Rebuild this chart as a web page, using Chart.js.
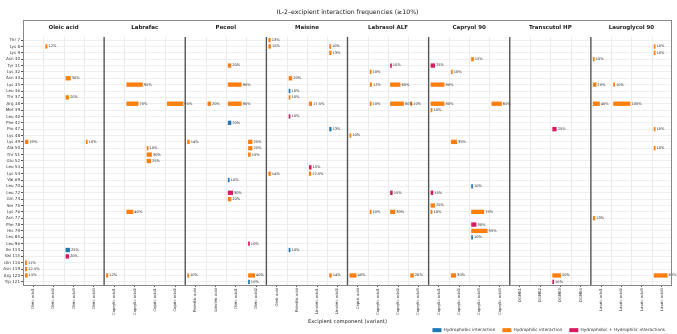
<!DOCTYPE html>
<html>
<head>
<meta charset="utf-8">
<script src="https://cdn.jsdelivr.net/npm/chart.js@4.4.0/dist/chart.umd.min.js"></script>
<style>
  html, body { margin: 0; padding: 0; background: #fff; }
</style>
</head>
<body>
<canvas id="chart" width="677" height="334"></canvas>
<script>
let residues = ['Thr 7', 'Lys 8', 'Lys 9', 'Asn 30', 'Tyr 31', 'Lys 32', 'Asn 33', 'Lys 35', 'Leu 36', 'Thr 37',
  'Arg 38', 'Met 39', 'Leu 40', 'Phe 42', 'Pro 47', 'Lys 48', 'Lys 49', 'Ala 50', 'Thr 51', 'Glu 52',
  'Leu 53', 'Lys 54', 'Val 69', 'Leu 70', 'Leu 72', 'Gln 74', 'Ser 75', 'Lys 76', 'Asn 77', 'Phe 78',
  'His 79', 'Leu 85', 'Leu 96', 'Ile 114', 'Val 115', 'Gln 116', 'Asn 119', 'Arg 120', 'Trp 121'];

let excipients = ['Oleic acid', 'Labrafac', 'Peceol', 'Maisine', 'Labrasol ALF', 'Capryol 90', 'Transcutol HP', 'Lauroglycol 90'];

let variants = [
  ['Oleic acid1', 'Oleic acid2', 'Oleic acid3', 'Oleic acid4'],
  ['Caprylic acid1', 'Caprylic acid2', 'Capric acid1', 'Capric acid2'],
  ['Palmitic acid', 'Linoleic acid', 'Oleic acid1', 'Oleic acid2'],
  ['Oleic acid', 'Palmitic acid', 'Linoleic acid1', 'Linoleic acid2'],
  ['Capric acid', 'Caprylic acid1', 'Caprylic acid2', 'Caprylic acid3'],
  ['Caprylic acid1', 'Caprylic acid2', 'Caprylic acid3', 'Caprylic acid4'],
  ['DGME1', 'DGME2', 'DGME3', 'DGME4'],
  ['Lauric acid1', 'Lauric acid2', 'Lauric acid3', 'Lauric acid4']
];

// [excipient, variant, residue, percent]
let hydrophobicHits = [
  [0, 2, 'Ile 114', 25],
  [2, 2, 'Phe 42', 20], [2, 2, 'Val 69', 10], [2, 3, 'Trp 121', 10],
  [3, 1, 'Leu 36', 10], [3, 3, 'Pro 47', 13], [3, 1, 'Ile 114', 10],
  [5, 2, 'Leu 70', 10], [5, 2, 'Leu 85', 10]
];

let hydrophilicHits = [
  [0, 1, 'Lys 8', 12], [0, 2, 'Asn 33', 30], [0, 2, 'Thr 37', 20], [0, 0, 'Lys 49', 19], [0, 3, 'Lys 49', 10],
  [0, 0, 'Gln 116', 11], [0, 0, 'Asn 119', 12.5], [0, 0, 'Arg 120', 15],
  [1, 1, 'Lys 35', 95], [1, 1, 'Arg 38', 70], [1, 3, 'Arg 38', 95], [1, 2, 'Ala 50', 10], [1, 2, 'Thr 51', 30],
  [1, 2, 'Glu 52', 25], [1, 1, 'Lys 76', 40], [1, 0, 'Arg 120', 12],
  [2, 2, 'Tyr 31', 20], [2, 2, 'Lys 35', 80], [2, 1, 'Arg 38', 20], [2, 2, 'Arg 38', 80], [2, 0, 'Lys 49', 14],
  [2, 3, 'Lys 49', 25], [2, 3, 'Ala 50', 25], [2, 3, 'Thr 51', 15], [2, 2, 'Gln 74', 20], [2, 0, 'Arg 120', 10],
  [2, 3, 'Arg 120', 40],
  [3, 0, 'Thr 7', 13], [3, 0, 'Lys 8', 15], [3, 3, 'Lys 8', 10], [3, 3, 'Lys 9', 13], [3, 1, 'Asn 33', 20],
  [3, 1, 'Thr 37', 10], [3, 2, 'Arg 38', 17.5], [3, 0, 'Lys 54', 14], [3, 2, 'Lys 54', 12.5], [3, 3, 'Arg 120', 14],
  [4, 0, 'Lys 48', 10], [4, 1, 'Lys 32', 10], [4, 1, 'Lys 35', 12], [4, 2, 'Lys 35', 60], [4, 1, 'Arg 38', 10],
  [4, 2, 'Arg 38', 80], [4, 3, 'Arg 38', 10], [4, 1, 'Lys 76', 10], [4, 2, 'Lys 76', 30], [4, 0, 'Arg 120', 40],
  [4, 3, 'Arg 120', 20],
  [5, 2, 'Asn 30', 15], [5, 1, 'Lys 32', 10], [5, 0, 'Lys 35', 80], [5, 0, 'Arg 38', 80], [5, 3, 'Arg 38', 60],
  [5, 0, 'Met 39', 10], [5, 1, 'Lys 49', 35], [5, 0, 'Ser 75', 25], [5, 0, 'Lys 76', 10], [5, 2, 'Lys 76', 75],
  [5, 2, 'His 79', 95], [5, 1, 'Arg 120', 30],
  [6, 2, 'Arg 120', 50],
  [7, 3, 'Lys 8', 10], [7, 3, 'Lys 9', 10], [7, 0, 'Asn 30', 10], [7, 0, 'Lys 35', 20], [7, 1, 'Lys 35', 10],
  [7, 0, 'Arg 38', 40], [7, 1, 'Arg 38', 100], [7, 3, 'Pro 47', 10], [7, 3, 'Ala 50', 10], [7, 0, 'Asn 77', 13],
  [7, 3, 'Arg 120', 80]
];

let bothHits = [
  [0, 2, 'Val 115', 20],
  [2, 2, 'Leu 72', 30], [2, 3, 'Leu 96', 10],
  [3, 1, 'Leu 40', 10], [3, 2, 'Leu 53', 15],
  [4, 2, 'Tyr 31', 10], [4, 2, 'Leu 72', 15],
  [5, 0, 'Tyr 31', 25], [5, 0, 'Leu 72', 15], [5, 2, 'Phe 78', 30],
  [6, 2, 'Pro 47', 25], [6, 2, 'Trp 121', 10]
];

const FONT = 'DejaVu Sans';

// each panel is 4 cells wide on one shared x scale
let tickValues = [];
let tickLabels = [];
for (let p = 0; p < excipients.length; p++) {
  for (let v = 0; v < 4; v++) {
    tickValues.push(p * 4 + v + 0.5);
    tickLabels.push(variants[p][v]);
  }
}

function toBars(hits) {
  return hits.map(function(h) {
    let start = h[0] * 4 + h[1] + 0.1;
    return { x: [start, start + h[3] / 100 * 0.85], y: h[2], pct: h[3] };
  });
}

function makeDataset(label, hits, color) {
  return {
    label: label,
    data: toBars(hits),
    backgroundColor: color,
    borderWidth: 0,
    grouped: false,
    barPercentage: 0.68,
    categoryPercentage: 1
  };
}

const panelFrame = {
  id: 'panelFrame',
  beforeDatasetsDraw(chart) {
    const { ctx, chartArea: a, scales: { x } } = chart;
    ctx.save();
    ctx.strokeStyle = '#ebebeb';
    ctx.lineWidth = 1;
    for (let k = 1; k < 32; k++) {
      if (k % 4 == 0) continue;
      let px = Math.round(x.getPixelForValue(k)) + 0.5;
      ctx.beginPath(); ctx.moveTo(px, a.top); ctx.lineTo(px, a.bottom); ctx.stroke();
    }
    ctx.restore();
  },
  afterDatasetsDraw(chart) {
    const { ctx, chartArea: a, scales: { x, xt } } = chart;
    ctx.save();

    // percentage labels next to each bar
    ctx.font = '3.6px "' + FONT + '"';
    ctx.fillStyle = '#333';
    ctx.textBaseline = 'middle';
    ctx.textAlign = 'left';
    chart.data.datasets.forEach(function(ds, i) {
      chart.getDatasetMeta(i).data.forEach(function(el, j) {
        ctx.fillText(ds.data[j].pct + '%', el.x + 1, el.y);
      });
    });

    // panel dividers
    ctx.strokeStyle = '#555';
    ctx.lineWidth = 1.4;
    for (let p = 1; p < excipients.length; p++) {
      let px = x.getPixelForValue(p * 4);
      ctx.beginPath(); ctx.moveTo(px, a.top); ctx.lineTo(px, a.bottom); ctx.stroke();
    }

    // outer frame incl. header strip
    ctx.strokeStyle = '#888';
    ctx.lineWidth = 1;
    ctx.strokeRect(Math.round(a.left) + 0.5, Math.round(xt.top) + 0.5,
      Math.round(a.right - a.left) - 1, Math.round(a.bottom - xt.top));
    ctx.restore();
  }
};

new Chart(document.getElementById('chart').getContext('2d'), {
  type: 'bar',
  data: {
    labels: residues,
    datasets: [
      makeDataset('Hydrophobic interaction', hydrophobicHits, '#1f77b4'),
      makeDataset('Hydrophilic interaction', hydrophilicHits, '#ff7f0e'),
      makeDataset('Hydrophobic + Hydrophilic interactions', bothHits, '#d81b60')
    ]
  },
  options: {
    indexAxis: 'y',
    responsive: false,
    animation: false,
    devicePixelRatio: 1,
    layout: { padding: { left: 2, right: 5, top: 0, bottom: 0 } },
    plugins: {
      title: {
        display: true,
        fullSize: false,
        text: 'IL-2\u2013excipient interaction frequencies (\u226510%)',
        color: '#222',
        font: { family: FONT, size: 6.2, weight: 'normal' },
        padding: { top: 8.5, bottom: 4 }
      },
      legend: {
        position: 'bottom',
        align: 'end',
        maxHeight: 13,
        labels: {
          boxWidth: 9,
          boxHeight: 4,
          padding: 7,
          color: '#333',
          font: { family: FONT, size: 4.3 }
        }
      },
      tooltip: { enabled: false }
    },
    scales: {
      x: {
        type: 'linear',
        position: 'bottom',
        min: 0,
        max: 32,
        afterBuildTicks: function(s) { s.ticks = tickValues.map(function(v) { return { value: v }; }); },
        afterFit: function(s) { s.height = 36; },
        ticks: {
          autoSkip: false,
          minRotation: 90,
          maxRotation: 90,
          padding: 1,
          color: '#333',
          font: { family: FONT, size: 3.8 },
          callback: function(v, i) { return tickLabels[i]; }
        },
        grid: { drawOnChartArea: false, tickLength: 2, tickColor: '#555' },
        border: { display: false },
        title: {
          display: true,
          text: 'Excipient component (variant)',
          color: '#222',
          font: { family: FONT, size: 5.2 },
          padding: { top: 0, bottom: -4 }
        }
      },
      xt: {
        type: 'linear',
        position: 'top',
        min: 0,
        max: 32,
        afterBuildTicks: function(s) { s.ticks = excipients.map(function(e, p) { return { value: p * 4 + 2 }; }); },
        afterFit: function(s) { s.height = 17; },
        ticks: {
          autoSkip: false,
          maxRotation: 0,
          padding: 5.7,
          color: '#222',
          font: { family: FONT, size: 5.5, weight: 'bold' },
          callback: function(v, i) { return excipients[i]; }
        },
        grid: { display: false, drawTicks: false },
        border: { display: false }
      },
      y: {
        type: 'category',
        labels: residues,
        afterFit: function(s) { s.width = 21; },
        ticks: {
          autoSkip: false,
          padding: 1,
          color: '#333',
          font: { family: FONT, size: 4.1 }
        },
        grid: { offset: false, color: '#efefef', tickLength: 2, tickColor: '#555' },
        border: { display: false }
      }
    }
  },
  plugins: [panelFrame]
});
</script>
</body>
</html>
